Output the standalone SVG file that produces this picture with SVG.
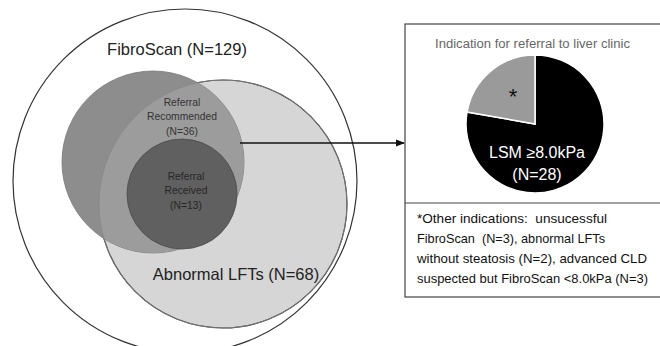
<svg xmlns="http://www.w3.org/2000/svg" width="660" height="346" viewBox="0 0 660 346">
<style>
text{font-family:"Liberation Sans",Arial,sans-serif}
.big{font-size:16.5px;fill:#222}
.small{font-size:10.3px;fill:#333;text-anchor:middle}
.dk{fill:#262626}
.note{font-size:13px;fill:#111}
</style>
<defs>
<clipPath id="lftClip"><circle cx="223" cy="204" r="124"/></clipPath>
<marker id="arr" markerWidth="10" markerHeight="10" refX="8" refY="5" orient="auto" markerUnits="userSpaceOnUse">
<path d="M0,1.5 L9,5 L0,8.5 Z" fill="#111"/>
</marker>
</defs>
<rect width="660" height="346" fill="#fff"/>
<g id="fibroscan">
<circle cx="185" cy="181" r="172" fill="#fff" stroke="#333" stroke-width="1.2"/>
<text class="big" x="177" y="55" text-anchor="middle">FibroScan (N=129)</text>
</g>
<g id="abnormal-lfts">
<circle cx="223" cy="204" r="124" fill="#d6d6d6" stroke="#333" stroke-width="1.2"/>
</g>
<g id="referral-recommended">
<circle cx="153" cy="162" r="91" fill="#8d8d8d" stroke="#777" stroke-width="0.8"/>
<circle cx="153" cy="162" r="91" fill="#9c9c9c" clip-path="url(#lftClip)"/>
<circle cx="223" cy="204" r="124" fill="none" stroke="#888" stroke-width="0.8"/>
<text class="small" x="182" y="106">Referral</text>
<text class="small" x="182" y="120">Recommended</text>
<text class="small" x="182" y="135">(N=36)</text>
</g>
<g id="referral-received">
<circle cx="182" cy="194" r="55" fill="#606060" stroke="#4a4a4a" stroke-width="0.8"/>
<text class="small dk" x="186" y="180">Referral</text>
<text class="small dk" x="186" y="194">Received</text>
<text class="small dk" x="186" y="209">(N=13)</text>
</g>
<g id="abnormal-label">
<text class="big" x="236" y="280" text-anchor="middle">Abnormal LFTs (N=68)</text>
</g>
<g id="connectors">
<line x1="240" y1="143" x2="404" y2="143" stroke="#111" stroke-width="1.6" marker-end="url(#arr)"/>
</g>
<g id="indication-box">
<rect x="405" y="24" width="260" height="273" fill="#fff" stroke="#444" stroke-width="1.2"/>
<line x1="405" y1="203" x2="665" y2="203" stroke="#444" stroke-width="1.2"/>
<text x="435" y="48" textLength="195" lengthAdjust="spacingAndGlyphs" style="font-size:12px;fill:#666">Indication for referral to liver clinic</text>
<path d="M535,124 L535,55 A69,69 0 1 1 467.05,112.02 Z" fill="#000" stroke="#fff" stroke-width="1.5"/>
<path d="M535,124 L467.05,112.02 A69,69 0 0 1 535,55 Z" fill="#9a9a9a" stroke="#fff" stroke-width="1.5"/>
<text x="513" y="104" text-anchor="middle" style="font-size:22px;fill:#111">*</text>
<text x="537" y="158" text-anchor="middle" style="font-size:16px;fill:#fff">LSM ≥8.0kPa</text>
<text x="537" y="180" text-anchor="middle" style="font-size:16px;fill:#fff">(N=28)</text>
<text class="note" x="417" y="223" xml:space="preserve" textLength="190" lengthAdjust="spacingAndGlyphs">*Other indications:  unsucessful</text>
<text class="note" x="417" y="243" xml:space="preserve" textLength="188" lengthAdjust="spacingAndGlyphs">FibroScan  (N=3), abnormal LFTs</text>
<text class="note" x="417" y="263" textLength="230" lengthAdjust="spacingAndGlyphs">without steatosis (N=2), advanced CLD</text>
<text class="note" x="417" y="283" textLength="231" lengthAdjust="spacingAndGlyphs">suspected but FibroScan &lt;8.0kPa (N=3)</text>
</g>
</svg>
